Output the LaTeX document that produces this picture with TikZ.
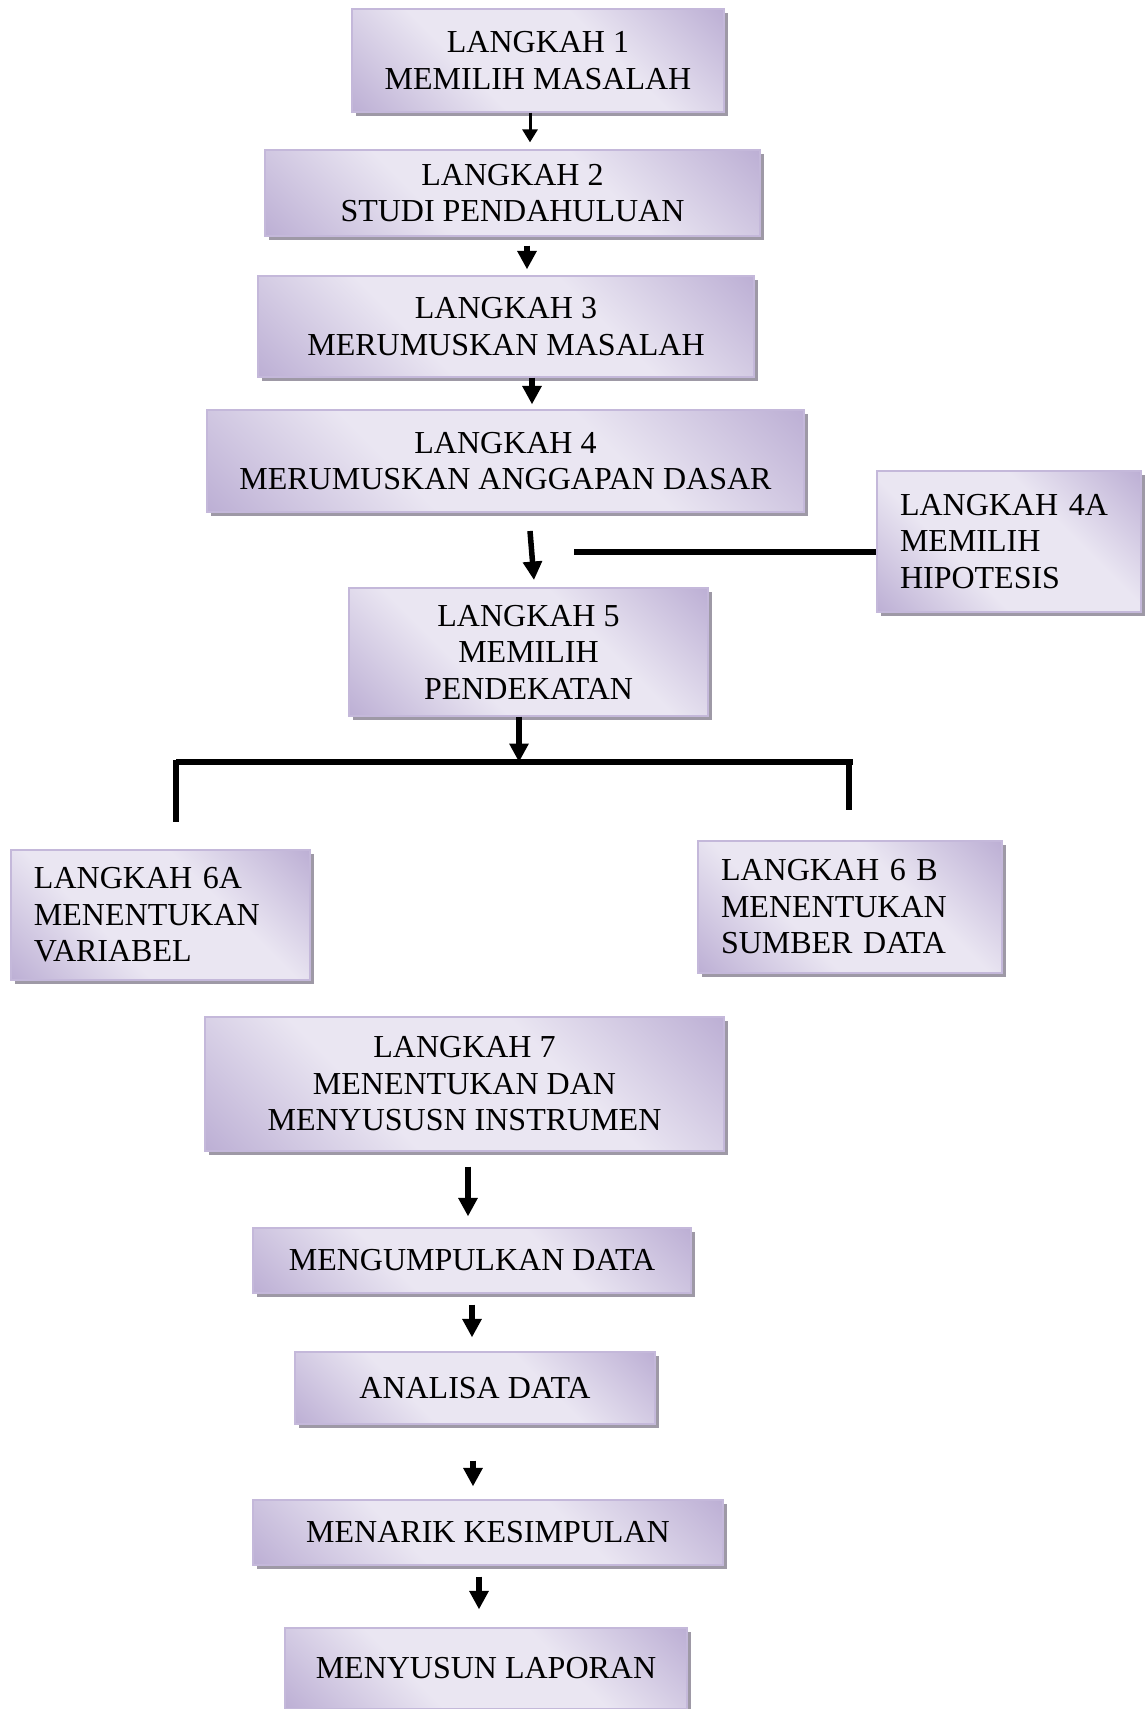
\documentclass[tikz,border=0pt]{standalone}
\usepackage{fontspec}
\setmainfont{Liberation Serif}
\usetikzlibrary{shadows,arrows.meta}

\definecolor{lavdark}{RGB}{160,141,194}
\definecolor{lavlight}{RGB}{234,230,242}
\definecolor{lavedge}{RGB}{196,184,218}
\definecolor{shadowgray}{RGB}{158,153,166}

% light band along one diagonal, purple towards the two other corners
\pgfdeclarehorizontalshading{lavgrad}{100bp}{%
  color(0bp)=(lavdark); color(38bp)=(lavlight); color(62bp)=(lavlight); color(100bp)=(lavdark)}

\tikzset{
  stepbox/.style={draw=lavedge, line width=0.5pt, inner sep=0pt,
    shading=lavgrad, shading angle=45,
    drop shadow={shadow xshift=1.6pt, shadow yshift=-1.6pt, fill=shadowgray, opacity=1},
    font=\fontsize{12.8}{14.6}\selectfont, align=center},
  leftbox/.style={stepbox, align=left, inner xsep=9.2pt},
  arr/.style={line width=2.2pt, -{Triangle[length=7.4pt,width=7.4pt]}},
  thinarr/.style={line width=1.2pt, -{Triangle[length=5.2pt,width=6pt]}},
  bar/.style={line width=2.4pt},
  leg/.style={line width=2.2pt},
}

\begin{document}
\begin{tikzpicture}[x=0.4pt, y=-0.4pt]
\fill[white] (0,0) rectangle (1145,1709);
\useasboundingbox (0,0) rectangle (1145,1709);

% main chain of steps
\node[stepbox, minimum width=148.8pt, minimum height=41.2pt] (b1) at (538,60.5)
  {LANGKAH 1\\MEMILIH MASALAH};
\node[stepbox, minimum width=198pt, minimum height=34.4pt] (b2) at (512.5,193)
  {LANGKAH 2\\STUDI PENDAHULUAN};
\node[stepbox, minimum width=198.4pt, minimum height=40.4pt] (b3) at (506,326.5)
  {LANGKAH 3\\MERUMUSKAN MASALAH};
\node[stepbox, minimum width=238.8pt, minimum height=40.8pt] (b4) at (505.5,461)
  {LANGKAH 4\\MERUMUSKAN ANGGAPAN DASAR};
\node[leftbox, minimum width=105.6pt, text width=87.2pt, minimum height=56.4pt] (b4a) at (1009,541.5)
  {LANGKAH~4A\\MEMILIH\\HIPOTESIS};
\node[stepbox, minimum width=143.6pt, minimum height=51.2pt] (b5) at (528.5,652)
  {LANGKAH 5\\MEMILIH\\PENDEKATAN};
\node[leftbox, minimum width=119.6pt, text width=101.2pt, minimum height=52pt] (b6a) at (160.5,915)
  {LANGKAH~6A\\MENENTUKAN\\VARIABEL};
\node[leftbox, minimum width=121.6pt, text width=103.2pt, minimum height=52.8pt] (b6b) at (850,907)
  {LANGKAH~6~B\\MENENTUKAN\\SUMBER~DATA};
\node[stepbox, minimum width=207.6pt, minimum height=53.6pt] (b7) at (464.5,1084)
  {LANGKAH 7\\MENENTUKAN DAN\\MENYUSUSN INSTRUMEN};
\node[stepbox, minimum width=175.2pt, minimum height=26pt] (m1) at (472,1260.5)
  {MENGUMPULKAN DATA};
\node[stepbox, minimum width=144pt, minimum height=28.8pt] (m2) at (475,1388)
  {ANALISA DATA};
\node[stepbox, minimum width=188pt, minimum height=26pt] (m3) at (488,1532.5)
  {MENARIK KESIMPULAN};
\node[stepbox, minimum width=160.8pt, minimum height=32.4pt] (m4) at (486,1668.5)
  {MENYUSUN LAPORAN};

% x positions of the short vertical arrows
\coordinate (x12) at (530,0);
\coordinate (x23) at (527,0);
\coordinate (x34) at (532,0);
\coordinate (x7) at (468,0);
\coordinate (xm1) at (472,0);
\coordinate (xm2) at (473,0);
\coordinate (xm3) at (479,0);

\draw[thinarr, shorten >=2.8pt] (b1.south -| x12) -- (b2.north -| x12);
\draw[arr, shorten <=3.6pt, shorten >=2.4pt] (b2.south -| x23) -- (b3.north -| x23);
\draw[arr, shorten >=2pt] (b3.south -| x34) -- (b4.north -| x34);

% step 4 to step 5, with the branch from 4A
\coordinate (a45s) at (530,531);
\coordinate (a45e) at (534,580);
\draw[arr] (a45s) -- (a45e);
\coordinate (h4a) at (574,552);
\draw[bar] (h4a) -- (b4a.west |- h4a);

% step 5 splits to 6A and 6B
\coordinate (barL) at (176,762);
\coordinate (barR) at (853,762);
\coordinate (x5) at (519,0);
\coordinate (legL) at (176,822);
\coordinate (legR) at (849,810);
\draw[bar] (barL) -- (barR);
\draw[leg] ([yshift=1pt]barL) -- (legL);
\draw[leg] ([yshift=1pt]legR |- barR) -- (legR);
\draw[arr] (b5.south -| x5) -- (barL -| x5);

% lower chain
\draw[arr, shorten <=6pt, shorten >=4.4pt] (b7.south -| x7) -- (m1.north -| x7);
\draw[arr, shorten <=4.4pt, shorten >=5.6pt] (m1.south -| xm1) -- (m2.north -| xm1);
\draw[arr, shorten <=14.4pt, shorten >=5.2pt] (m2.south -| xm2) -- (m3.north -| xm2);
\draw[arr, shorten <=4.4pt, shorten >=7.2pt] (m3.south -| xm3) -- (m4.north -| xm3);
\end{tikzpicture}
\end{document}
